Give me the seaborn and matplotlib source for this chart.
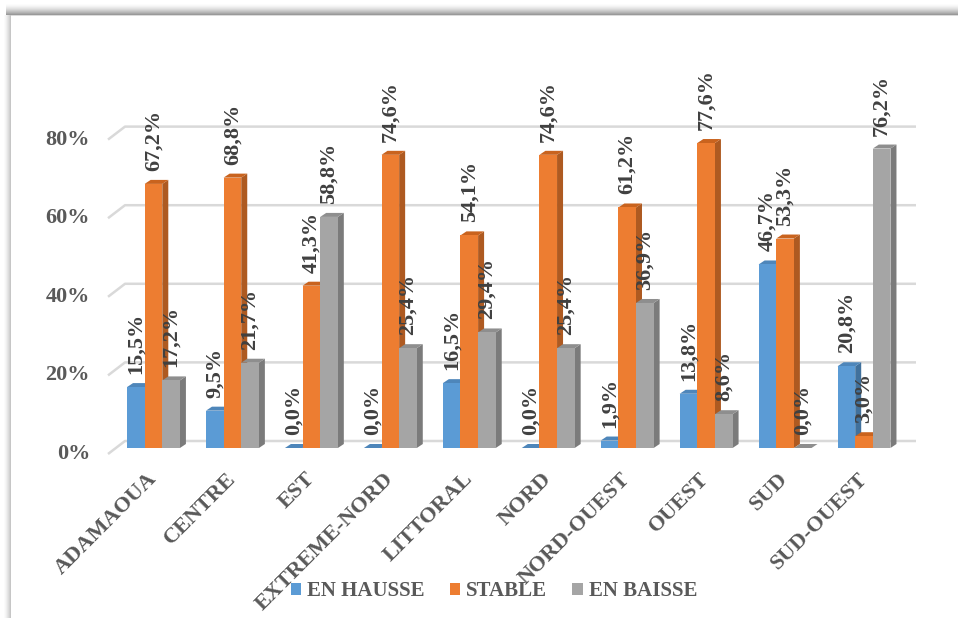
import numpy as np
import pandas as pd
import matplotlib
matplotlib.use("Agg")
import matplotlib.pyplot as plt
import seaborn as sns
from matplotlib.patches import Polygon, Patch

# ---- data -------------------------------------------------------------
regions = ["ADAMAOUA", "CENTRE", "EST", "EXTREME-NORD", "LITTORAL",
           "NORD", "NORD-OUEST", "OUEST", "SUD", "SUD-OUEST"]
series = ["EN HAUSSE", "STABLE", "EN BAISSE"]
en_hausse = [15.5, 9.5, 0.0, 0.0, 16.5, 0.0, 1.9, 13.8, 46.7, 20.8]
stable = [67.2, 68.8, 41.3, 74.6, 54.1, 74.6, 61.2, 77.6, 53.3, 3.0]
en_baisse = [17.2, 21.7, 58.8, 25.4, 29.4, 25.4, 36.9, 8.6, 0.0, 76.2]
y_ticks = [0, 20, 40, 60, 80]
y_tick_labels = ["0%", "20%", "40%", "60%", "80%"]

colors = ["#5B9BD5", "#ED7D31", "#A5A5A5"]
side_colors = ["#41719C", "#AE5A21", "#7B7B7B"]
top_colors = ["#4E86BA", "#C9631E", "#8E8E8E"]

sns.set_theme(style="white")
plt.rcParams["font.family"] = ["Liberation Serif", "DejaVu Serif"]
plt.rcParams["font.weight"] = "bold"

W, H = 958, 618
fig = plt.figure(figsize=(W / 100, H / 100), dpi=100)

# ---- background card with a soft shadow on the top and left edges -----
bg = np.ones((H, W, 3))
for y in range(3, 15):
    t = (y - 3) / 11.0
    g = 1 - 0.40 * t ** 1.6
    bg[y, 6:, :] = g
bg[15, 9:, :] = 0.86
for x in range(3, 11):
    t = (x - 3) / 7.0
    g = 1 - 0.22 * t ** 1.5
    bg[15:, x, :] = np.minimum(bg[15:, x, :], g)
bgax = fig.add_axes([0, 0, 1, 1], zorder=-10)
bgax.imshow(bg, aspect="auto", extent=(0, W, H, 0), interpolation="bilinear")
bgax.set_axis_off()

# ---- plotting area ---------------------------------------------------
px_left, px_right = 114, 903.5
px_base, px_per_pct = 448, 3.93
y_max = 100
px_top = px_base - y_max * px_per_pct
ax = fig.add_axes([px_left / W, (H - px_base) / H,
                   (px_right - px_left) / W, (px_base - px_top) / H])
ax.patch.set_alpha(0)

df = pd.DataFrame({
    "Région": regions * 3,
    "Série": np.repeat(series, len(regions)),
    "Valeur": en_hausse + stable + en_baisse,
})
sns.barplot(data=df, x="Région", y="Valeur", hue="Série", order=regions,
            hue_order=series, palette=colors, width=0.67, saturation=1,
            errorbar=None, linewidth=0, ax=ax, zorder=3)
ax.get_legend().remove()
ax.set_xlim(-0.5, len(regions) - 0.5)
ax.set_ylim(0, y_max)
ax.set_axis_off()

px_per_x = (px_right - px_left) / len(regions)
dx = 6 / px_per_x        # depth offset, horizontal
dy = 4 / px_per_pct      # depth offset, vertical

# gridlines on the back wall with a slanted floor edge at the left
x_front = -0.5 - 6 / px_per_x
x_back = -0.5 + 11 / px_per_x
x_end = len(regions) - 0.5 + 12.5 / px_per_x
for v, lab in zip(y_ticks, y_tick_labels):
    yf = v - 6 / px_per_pct
    yb = v + 7 / px_per_pct
    ax.plot([x_front, x_back, x_end], [yf, yb, yb], color="#D9D9D9",
            lw=1.8, zorder=1, clip_on=False, solid_capstyle="butt")
    ax.text(-0.5 - 24 / px_per_x, yf, lab, ha="right", va="center",
            fontsize=16, color="#595959", fontweight="bold", clip_on=False)

# 3D faces and value labels
for i, cont in enumerate(ax.containers):
    for bar in cont:
        x0, w, h = bar.get_x(), bar.get_width(), bar.get_height()
        side = Polygon([(x0 + w, 0), (x0 + w + dx, dy), (x0 + w + dx, h + dy),
                        (x0 + w, h)], closed=True, facecolor=side_colors[i],
                       edgecolor="none", zorder=2)
        top = Polygon([(x0, h), (x0 + dx, h + dy), (x0 + w + dx, h + dy),
                       (x0 + w, h)], closed=True, facecolor=top_colors[i],
                      edgecolor="none", zorder=2)
        ax.add_patch(side)
        ax.add_patch(top)
        label = f"{h:.1f}".replace(".", ",") + "%"
        ax.annotate(label, xy=(x0 + w / 2, h), xytext=(0, 13),
                    textcoords="offset pixels", rotation=90, ha="center",
                    va="bottom", fontsize=16, color="#404040",
                    fontweight="bold", zorder=5, annotation_clip=False)

# category labels
for k, name in enumerate(regions):
    ax.text(k + 0.0, -28 / px_per_pct, name, rotation=45, ha="right",
            va="center", rotation_mode="anchor", fontsize=16,
            color="#595959", fontweight="bold", clip_on=False)

# legend
handles = [Patch(facecolor=c, edgecolor="none") for c in colors]
fig.legend(handles, series, loc="center", bbox_to_anchor=(494 / W, 1 - 591 / H),
           bbox_transform=fig.transFigure, ncol=3, frameon=False,
           prop={"size": 15, "weight": "bold"}, labelcolor="#595959",
           handlelength=0.5, handleheight=0.5, handletextpad=0.3,
           columnspacing=1.2)

fig.savefig("out.png", dpi=100)
